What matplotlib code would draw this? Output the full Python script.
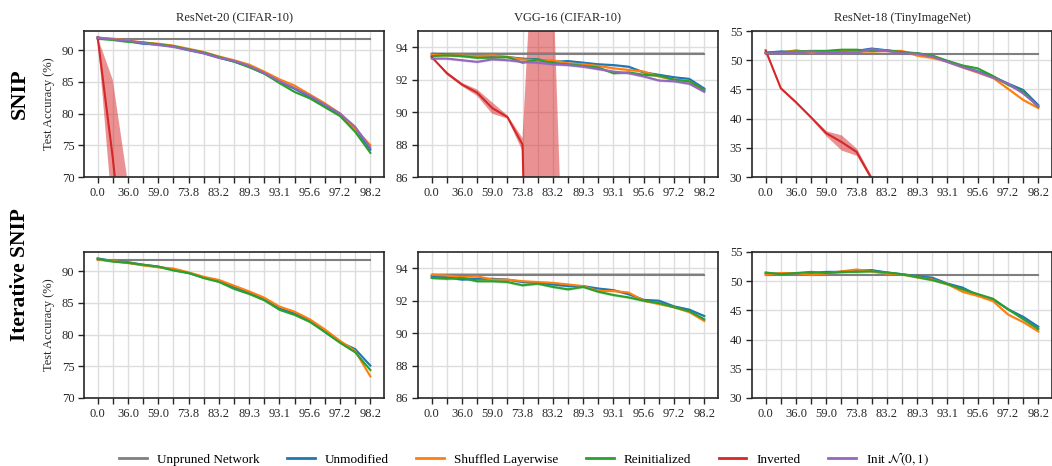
import matplotlib
matplotlib.use("Agg")
import matplotlib.pyplot as plt
import numpy as np

plt.rcParams['font.family'] = ['Liberation Serif', 'DejaVu Serif']
plt.rcParams['mathtext.fontset'] = 'stix'

# x positions are pruning steps, every second one gets a sparsity label
sparsity_labels = ['0.0', '36.0', '59.0', '73.8', '83.2', '89.3', '93.1', '95.6', '97.2', '98.2']
n_steps = 19

titles = ['ResNet-20 (CIFAR-10)', 'VGG-16 (CIFAR-10)', 'ResNet-18 (TinyImageNet)']
ylims = [(70, 93), (86, 95), (30, 55)]
yticks = [[70, 75, 80, 85, 90], [86, 88, 90, 92, 94], [30, 35, 40, 45, 50, 55]]
unpruned = [91.7, 93.6, 51.1]
unpruned_std = [0.03, 0.1, 0.03]
band = [0.15, 0.07, 0.2]

# ---- SNIP (top row) ----
r20_snip_unmod = [92.0, 91.7, 91.4, 91.0, 90.9, 90.6, 90.0, 89.5, 88.8, 88.2, 87.4, 86.3, 85.0, 83.9, 82.6, 81.3, 79.8, 77.6, 74.3]
r20_snip_shuf = [91.9, 91.8, 91.5, 91.2, 91.0, 90.7, 90.2, 89.7, 89.0, 88.4, 87.7, 86.6, 85.4, 84.4, 83.0, 81.6, 80.0, 77.6, 75.0]
r20_snip_reinit = [91.8, 91.6, 91.3, 91.2, 90.9, 90.6, 90.1, 89.6, 88.9, 88.2, 87.3, 86.3, 84.8, 83.4, 82.4, 81.0, 79.6, 77.1, 73.8]
r20_snip_inv = [92.0, 73.0, 50.0, 10.0, 10.0, 10.0, 10.0, 10.0, 10.0, 10.0, 10.0, 10.0, 10.0, 10.0, 10.0, 10.0, 10.0, 10.0, 10.0]
r20_snip_inv_lo = [92.0, 63.8, 30.0, 10.0, 10.0, 10.0, 10.0, 10.0, 10.0, 10.0, 10.0, 10.0, 10.0, 10.0, 10.0, 10.0, 10.0, 10.0, 10.0]
r20_snip_inv_hi = [92.0, 85.3, 69.0, 10.0, 10.0, 10.0, 10.0, 10.0, 10.0, 10.0, 10.0, 10.0, 10.0, 10.0, 10.0, 10.0, 10.0, 10.0, 10.0]
r20_snip_init = [91.9, 91.7, 91.5, 91.1, 90.8, 90.5, 90.0, 89.5, 88.8, 88.3, 87.5, 86.4, 85.1, 84.0, 82.8, 81.4, 80.0, 77.9, 74.6]

vgg_snip_unmod = [93.6, 93.55, 93.5, 93.45, 93.45, 93.4, 93.3, 93.25, 93.1, 93.15, 93.05, 92.95, 92.9, 92.8, 92.45, 92.3, 92.15, 92.05, 91.45]
vgg_snip_shuf = [93.55, 93.5, 93.5, 93.45, 93.5, 93.4, 93.25, 93.2, 93.2, 93.0, 92.95, 92.85, 92.7, 92.6, 92.5, 92.2, 92.0, 91.9, 91.35]
vgg_snip_reinit = [93.45, 93.5, 93.45, 93.35, 93.35, 93.4, 93.05, 93.25, 93.0, 92.95, 92.85, 92.75, 92.4, 92.45, 92.3, 92.25, 92.0, 91.9, 91.35]
vgg_snip_inv = [93.4, 92.4, 91.7, 91.2, 90.25, 89.7, 88.0, 48.0, 40.0, 10.0, 10.0, 10.0, 10.0, 10.0, 10.0, 10.0, 10.0, 10.0, 10.0]
vgg_snip_inv_lo = [93.4, 92.3, 91.6, 91.0, 89.9, 89.6, 87.6, -10.0, -10.0, 10.0, 10.0, 10.0, 10.0, 10.0, 10.0, 10.0, 10.0, 10.0, 10.0]
vgg_snip_inv_hi = [93.4, 92.5, 91.8, 91.4, 90.6, 89.8, 88.4, 106.0, 98.5, 71.0, 10.0, 10.0, 10.0, 10.0, 10.0, 10.0, 10.0, 10.0, 10.0]
vgg_snip_init = [93.3, 93.3, 93.2, 93.1, 93.25, 93.2, 93.1, 93.05, 92.95, 92.9, 92.8, 92.65, 92.5, 92.4, 92.2, 91.95, 91.9, 91.75, 91.25]

r18_snip_unmod = [51.3, 51.5, 51.4, 51.5, 51.4, 51.5, 51.6, 52.0, 51.7, 51.3, 51.2, 50.7, 49.8, 48.9, 48.1, 47.2, 46.0, 44.9, 42.3]
r18_snip_shuf = [51.2, 51.3, 51.7, 51.3, 51.5, 51.6, 51.5, 51.5, 51.6, 51.6, 50.8, 50.4, 49.8, 48.8, 47.9, 47.0, 45.1, 43.2, 41.8]
r18_snip_reinit = [51.3, 51.4, 51.5, 51.6, 51.6, 51.8, 51.8, 51.6, 51.7, 51.4, 51.2, 50.8, 49.9, 49.1, 48.6, 47.3, 45.8, 44.6, 42.0]
r18_snip_inv = [51.7, 45.2, 42.8, 40.2, 37.5, 36.0, 34.3, 29.7, 22.0, 12.0, 6.0, 3.0, 1.5, 0.8, 0.5, 0.5, 0.5, 0.5, 0.5]
r18_snip_inv_lo = [51.7, 45.0, 42.6, 40.0, 37.0, 34.6, 33.7, 29.3, 21.0, 11.0, 5.5, 2.8, 1.4, 0.7, 0.5, 0.5, 0.5, 0.5, 0.5]
r18_snip_inv_hi = [51.7, 45.4, 43.0, 40.4, 37.9, 37.2, 34.9, 30.1, 23.0, 13.0, 6.5, 3.2, 1.6, 0.9, 0.5, 0.5, 0.5, 0.5, 0.5]
r18_snip_init = [51.2, 51.2, 51.4, 51.5, 51.3, 51.4, 51.3, 51.9, 51.6, 51.2, 51.1, 50.6, 49.7, 48.8, 48.0, 47.0, 46.0, 44.3, 42.1]

# ---- Iterative SNIP (bottom row) ----
r20_it_unmod = [92.0, 91.6, 91.4, 91.0, 90.7, 90.2, 89.7, 89.0, 88.4, 87.5, 86.6, 85.5, 84.1, 83.3, 82.2, 80.4, 78.8, 77.7, 75.1]
r20_it_shuf = [91.8, 91.6, 91.3, 90.9, 90.6, 90.4, 89.8, 89.1, 88.6, 87.7, 86.8, 85.8, 84.4, 83.6, 82.4, 80.8, 79.0, 77.4, 73.4]
r20_it_reinit = [91.9, 91.5, 91.3, 91.0, 90.7, 90.1, 89.7, 88.9, 88.3, 87.2, 86.4, 85.4, 83.9, 83.1, 82.0, 80.4, 78.7, 77.2, 74.4]

vgg_it_unmod = [93.5, 93.45, 93.3, 93.35, 93.35, 93.3, 93.15, 93.1, 93.0, 92.9, 92.9, 92.75, 92.65, 92.4, 92.05, 92.0, 91.65, 91.45, 91.05]
vgg_it_shuf = [93.6, 93.55, 93.45, 93.5, 93.3, 93.3, 93.2, 93.15, 93.1, 93.0, 92.9, 92.6, 92.6, 92.5, 92.0, 91.8, 91.6, 91.3, 90.75]
vgg_it_reinit = [93.4, 93.35, 93.4, 93.2, 93.2, 93.15, 92.95, 93.05, 92.85, 92.7, 92.85, 92.55, 92.35, 92.2, 92.0, 91.85, 91.6, 91.35, 90.85]

r18_it_unmod = [51.3, 51.3, 51.4, 51.4, 51.6, 51.6, 51.8, 51.9, 51.5, 51.2, 50.9, 50.6, 49.6, 48.9, 47.6, 46.9, 45.2, 43.9, 42.2]
r18_it_shuf = [51.1, 51.4, 51.4, 51.1, 51.3, 51.7, 52.0, 51.7, 51.3, 51.2, 50.7, 50.3, 49.5, 48.2, 47.5, 46.6, 44.3, 43.0, 41.4]
r18_it_reinit = [51.5, 51.2, 51.4, 51.6, 51.4, 51.6, 51.6, 51.7, 51.5, 51.2, 50.7, 50.2, 49.5, 48.6, 47.8, 47.0, 45.2, 43.5, 41.8]

names = ['Unpruned Network', 'Unmodified', 'Shuffled Layerwise', 'Reinitialized', 'Inverted', r'Init $\mathcal{N}(0, 1)$']
colors = ['#7f7f7f', '#1f77b4', '#ff7f0e', '#2ca02c', '#d62728', '#9467bd']

top_row = [
    [r20_snip_unmod, r20_snip_shuf, r20_snip_reinit, (r20_snip_inv, r20_snip_inv_lo, r20_snip_inv_hi), r20_snip_init],
    [vgg_snip_unmod, vgg_snip_shuf, vgg_snip_reinit, (vgg_snip_inv, vgg_snip_inv_lo, vgg_snip_inv_hi), vgg_snip_init],
    [r18_snip_unmod, r18_snip_shuf, r18_snip_reinit, (r18_snip_inv, r18_snip_inv_lo, r18_snip_inv_hi), r18_snip_init],
]
bottom_row = [
    [r20_it_unmod, r20_it_shuf, r20_it_reinit, None, None],
    [vgg_it_unmod, vgg_it_shuf, vgg_it_reinit, None, None],
    [r18_it_unmod, r18_it_shuf, r18_it_reinit, None, None],
]

W, H = 1052, 466
fig = plt.figure(figsize=(W / 100, H / 100), dpi=100)

lefts = [84, 418, 752]
ax_w = 300
row_tops = [31, 252]
ax_h = 146

x = np.arange(n_steps)
for r, rowdata in enumerate([top_row, bottom_row]):
    for c in range(3):
        ax = fig.add_axes([lefts[c] / W, 1 - (row_tops[r] + ax_h) / H, ax_w / W, ax_h / H])
        ax.set_axisbelow(True)
        ax.grid(True, which='both', axis='x', color='#dddddd', lw=1.0)
        ax.grid(True, which='major', axis='y', color='#dddddd', lw=1.0)

        u = np.full(n_steps, unpruned[c])
        ax.fill_between(x, u - unpruned_std[c], u + unpruned_std[c], color=colors[0], alpha=0.45, lw=0)
        ax.plot(x, u, color=colors[0], lw=1.5)

        for k, series in enumerate(rowdata[c]):
            if series is None:
                continue
            col = colors[k + 1]
            if isinstance(series, tuple):
                m, lo, hi = (np.array(s) for s in series)
                ax.fill_between(x, lo, hi, color=col, alpha=0.5, lw=0)
            else:
                m = np.array(series)
                ax.fill_between(x, m - band[c], m + band[c], color=col, alpha=0.35, lw=0)
            ax.plot(x, m, color=col, lw=1.5)

        ax.set_xlim(-0.9, 18.9)
        ax.set_ylim(*ylims[c])
        ax.set_yticks(yticks[c])
        ax.set_xticks(range(0, n_steps, 2))
        ax.set_xticklabels(sparsity_labels)
        ax.set_xticks(range(1, n_steps, 2), minor=True)
        ax.tick_params(which='both', direction='out', length=4, width=1, color='#262626',
                       labelsize=9, labelcolor='#262626', pad=3)
        for s in ax.spines.values():
            s.set_color('#262626')
            s.set_linewidth(1.2)
        if r == 0:
            ax.set_title(titles[c], fontsize=9, color='#262626', pad=7)
        if c == 0:
            ax.set_ylabel('Test Accuracy (%)', fontsize=9, color='#262626', labelpad=5)

fig.text(20 / W, 1 - 94 / H, 'SNIP', rotation=90, fontsize=16, fontweight='bold',
         ha='center', va='center')
fig.text(20 / W, 1 - 275 / H, 'Iterative SNIP', rotation=90, fontsize=15.5, fontweight='bold',
         ha='center', va='center')

handles = [plt.Line2D([], [], color=col, lw=2) for col in colors]
fig.legend(handles, names, loc='center', bbox_to_anchor=(524 / W, 1 - 459 / H), ncol=6,
           frameon=False, fontsize=9.5, handlelength=2.1, handletextpad=0.75, columnspacing=2.1)

fig.savefig('out.png', dpi=100)
